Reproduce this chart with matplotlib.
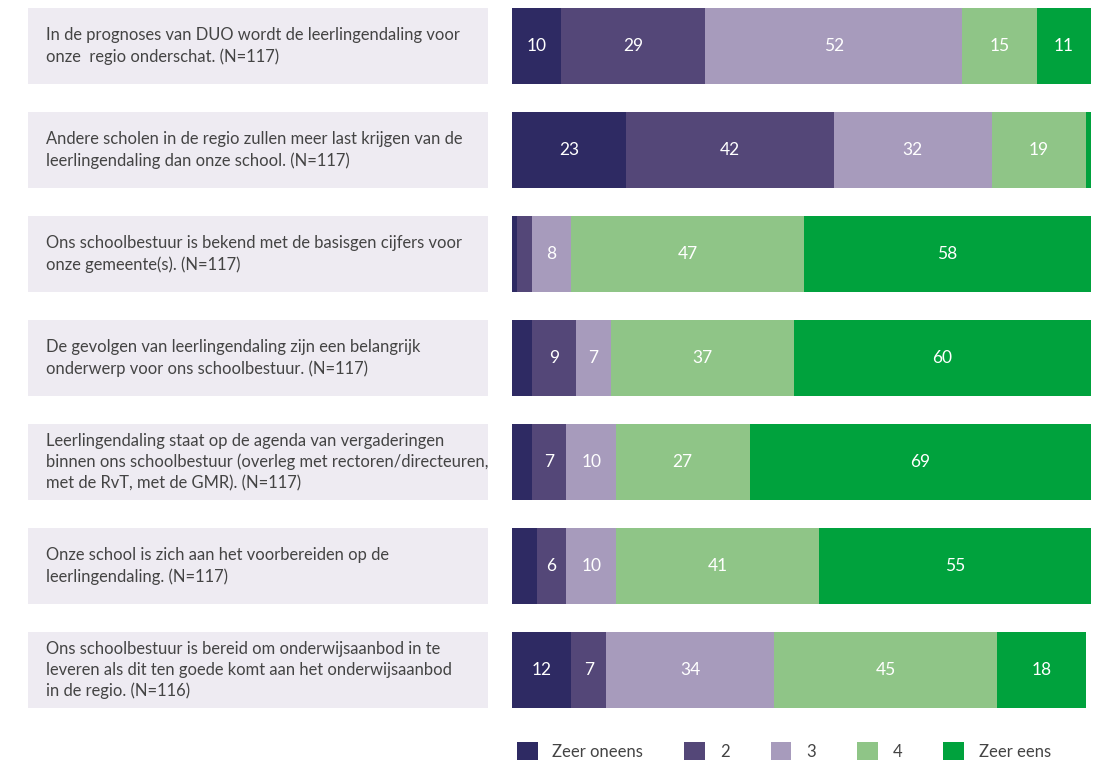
import matplotlib.pyplot as plt
import numpy as np

# statements (left column)
statements = [
    'In de prognoses van DUO wordt de leerlingendaling voor\nonze  regio onderschat. (N=117)',
    'Andere scholen in de regio zullen meer last krijgen van de\nleerlingendaling dan onze school. (N=117)',
    'Ons schoolbestuur is bekend met de basisgen cijfers voor\nonze gemeente(s). (N=117)',
    'De gevolgen van leerlingendaling zijn een belangrijk\nonderwerp voor ons schoolbestuur. (N=117)',
    'Leerlingendaling staat op de agenda van vergaderingen\nbinnen ons schoolbestuur (overleg met rectoren/directeuren,\nmet de RvT, met de GMR). (N=117)',
    'Onze school is zich aan het voorbereiden op de\nleerlingendaling. (N=117)',
    'Ons schoolbestuur is bereid om onderwijsaanbod in te\nleveren als dit ten goede komt aan het onderwijsaanbod\nin de regio. (N=116)',
]

categories = ['Zeer oneens', '2', '3', '4', 'Zeer eens']

zeer_oneens = [10, 23, 1, 4, 4, 5, 12]
twee = [29, 42, 3, 9, 7, 6, 7]
drie = [52, 32, 8, 7, 10, 10, 34]
vier = [15, 19, 47, 37, 27, 41, 45]
zeer_eens = [11, 1, 58, 60, 69, 55, 18]

colors = ['#2E2A63', '#544778', '#A79BBC', '#8FC587', '#00A23D']
text_color = '#444444'

plt.rcParams['font.family'] = ['Lato', 'DejaVu Sans']

fig = plt.figure(figsize=(11.09, 7.62), dpi=100)
W, H = 1109, 762
top_px, bot_px = 8, 708
ax_bottom = (H - bot_px) / H
ax_height = (bot_px - top_px) / H

rows = np.arange(len(statements))
bar_h = 76 / 104
ylim = (len(statements) - 1 + bar_h / 2, -bar_h / 2)

# left: label boxes
axl = fig.add_axes([28 / W, ax_bottom, 460 / W, ax_height])
axl.barh(rows, [1] * len(rows), height=bar_h, left=0, color='#EEEBF2')
for r, s in zip(rows, statements):
    axl.text(18 / 460, r, s, va='center', ha='left', fontsize=11.9,
             color=text_color, linespacing=1.38)
axl.set_xlim(0, 1)
axl.set_ylim(*ylim)
axl.axis('off')

# right: stacked bars
axr = fig.add_axes([512 / W, ax_bottom, 579 / W, ax_height])
series = [zeer_oneens, twee, drie, vier, zeer_eens]
left = np.zeros(len(rows))
handles = []
for vals, c, lab in zip(series, colors, categories):
    vals = np.array(vals)
    b = axr.barh(rows, vals, left=left, height=bar_h, color=c, label=lab)
    handles.append(b)
    for r, v, l in zip(rows, vals, left):
        if v >= 6:
            axr.text(l + v / 2, r, str(v), ha='center', va='center',
                     color='white', fontsize=12.5)
    left += vals
axr.set_xlim(0, 117)
axr.set_ylim(*ylim)
axr.axis('off')

fig.legend(handles=handles, labels=categories, loc='center left',
           bbox_to_anchor=(510 / W, 1 - 751 / H), ncol=5, frameon=False,
           fontsize=12, labelcolor=text_color, handlelength=1.25,
           handleheight=1.25, handletextpad=0.9, columnspacing=2.45,
           borderaxespad=0)

fig.savefig('out.png', dpi=100)
